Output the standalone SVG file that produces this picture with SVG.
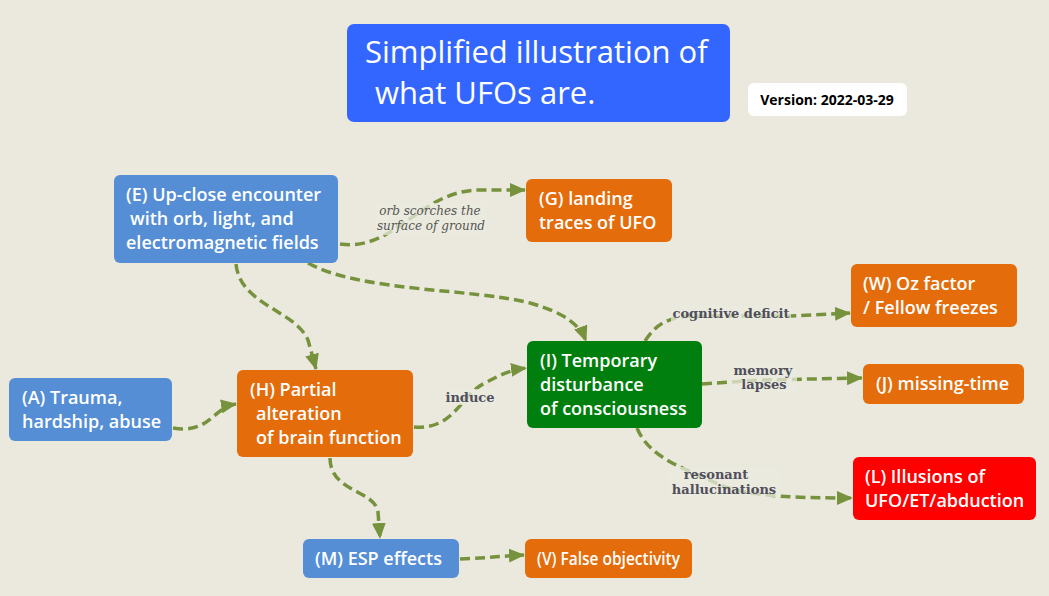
<svg xmlns="http://www.w3.org/2000/svg" width="1049" height="596" viewBox="0 0 1049 596">
<defs>
<marker id="ah" markerUnits="userSpaceOnUse" markerWidth="16" markerHeight="14" viewBox="0 0 16 14" refX="15" refY="7" orient="auto">
<path d="M0,0 L16,7 L0,14 Z" fill="#76923c"/>
</marker>
<style>
.n text{font-family:"Open Sans","Liberation Sans",sans-serif;font-weight:600;font-size:18px;fill:#fff}
.blue{fill:#558ed5}
.orange{fill:#e46c0a}
.green{fill:#007f0e}
.red{fill:#ff0000}
.c path{fill:none;stroke:#76923c;stroke-width:3.5;stroke-dasharray:10 5}
.lbl{font-family:"DejaVu Serif","Liberation Serif",serif;font-weight:bold;font-size:13px;fill:#4f4f5c}
.lbli{font-family:"DejaVu Serif","Liberation Serif",serif;font-style:italic;font-size:12px;fill:#555}
.lb{fill:#ebe9de;opacity:0.75}
</style>
</defs>
<rect width="1049" height="596" fill="#ebe9de"/>

<g id="title">
<rect x="347" y="24" width="383" height="98" rx="7" fill="#3366ff"/>
<text x="365" y="63" font-family="Open Sans,Liberation Sans,sans-serif" font-size="31" fill="#fff">Simplified illustration of</text>
<text x="375" y="104" font-family="Open Sans,Liberation Sans,sans-serif" font-size="31" fill="#fff">what UFOs are.</text>
</g>
<g id="version">
<rect x="748" y="83" width="159" height="33" rx="6" fill="#fff"/>
<text x="827" y="105" text-anchor="middle" font-family="Open Sans,Liberation Sans,sans-serif" font-weight="bold" font-size="14" fill="#000">Version: 2022-03-29</text>
</g>

<g class="c" id="connectors">
<path d="M340,244 C395,252 420,190 480,190 L525,190" marker-end="url(#ah)"/>
<path d="M236,264 C240,305 295,310 308,340 L316,369" marker-end="url(#ah)"/>
<path d="M308,263 C360,292 470,288 530,303 C565,313 580,325 586,341" marker-end="url(#ah)"/>
<path d="M173,428 C210,434 212,408 236,404" marker-end="url(#ah)"/>
<path d="M414,427 C455,430 460,395 485,383 C500,375 510,370 526,368" marker-end="url(#ah)"/>
<path d="M645,341 C655,326 665,318 690,316 L790,316 L850,313" marker-end="url(#ah)"/>
<path d="M702,384 L760,380 L862,378" marker-end="url(#ah)"/>
<path d="M637,428 C650,460 690,470 720,485 C750,497 800,498 852,498" marker-end="url(#ah)"/>
<path d="M330,458 C330,492 375,490 378,512 L380,538" marker-end="url(#ah)"/>
<path d="M460,559 C490,558 500,556 524,555" marker-end="url(#ah)"/>
</g>

<g id="labels">
<rect class="lb" x="375" y="203" width="112" height="32"/>
<text class="lbli" x="430" y="215" text-anchor="middle">orb scorches the</text>
<text class="lbli" x="431" y="230" text-anchor="middle">surface of ground</text>
<rect class="lb" x="443" y="389" width="54" height="16"/>
<text class="lbl" x="470" y="402" text-anchor="middle">induce</text>
<rect class="lb" x="671" y="305" width="120" height="17"/>
<text class="lbl" x="731" y="318" text-anchor="middle">cognitive deficit</text>
<rect class="lb" x="730" y="363" width="67" height="30"/>
<text class="lbl" x="763" y="375" text-anchor="middle">memory</text>
<text class="lbl" x="764" y="389" text-anchor="middle">lapses</text>
<rect class="lb" x="668" y="467" width="113" height="30"/>
<text class="lbl" x="716" y="479" text-anchor="middle">resonant</text>
<text class="lbl" x="724" y="494" text-anchor="middle">hallucinations</text>
</g>

<g class="n" id="E">
<rect class="blue" x="114" y="175" width="224" height="88" rx="6"/>
<text x="126" y="201">(E) Up-close encounter</text>
<text x="130" y="225">with orb, light, and</text>
<text x="126" y="249">electromagnetic fields</text>
</g>
<g class="n" id="G">
<rect class="orange" x="526" y="179" width="146" height="63" rx="6"/>
<text x="539" y="205">(G) landing</text>
<text x="539" y="229">traces of UFO</text>
</g>
<g class="n" id="W">
<rect class="orange" x="851" y="264" width="166" height="63" rx="6"/>
<text x="863" y="290">(W) Oz factor</text>
<text x="863" y="314">/ Fellow freezes</text>
</g>
<g class="n" id="J">
<rect class="orange" x="863" y="364" width="161" height="40" rx="6"/>
<text x="876" y="390">(J) missing-time</text>
</g>
<g class="n" id="I">
<rect class="green" x="527" y="341" width="175" height="87" rx="6"/>
<text x="540" y="367">(I) Temporary</text>
<text x="540" y="391">disturbance</text>
<text x="540" y="415">of consciousness</text>
</g>
<g class="n" id="H">
<rect class="orange" x="237" y="370" width="176" height="87" rx="6"/>
<text x="250" y="396">(H) Partial</text>
<text x="256" y="420">alteration</text>
<text x="256" y="444">of brain function</text>
</g>
<g class="n" id="A">
<rect class="blue" x="9" y="378" width="163" height="63" rx="6"/>
<text x="22" y="404">(A) Trauma,</text>
<text x="22" y="428">hardship, abuse</text>
</g>
<g class="n" id="L">
<rect class="red" x="853" y="457" width="183" height="63" rx="6"/>
<text x="865" y="483">(L) Illusions of</text>
<text x="865" y="507">UFO/ET/abduction</text>
</g>
<g class="n" id="M">
<rect class="blue" x="303" y="539" width="156" height="39" rx="6"/>
<text x="315" y="565">(M) ESP effects</text>
</g>
<g class="n" id="V">
<rect class="orange" x="525" y="539" width="167" height="39" rx="6"/>
<text x="537" y="565" textLength="143" lengthAdjust="spacingAndGlyphs">(V) False objectivity</text>
</g>
</svg>
